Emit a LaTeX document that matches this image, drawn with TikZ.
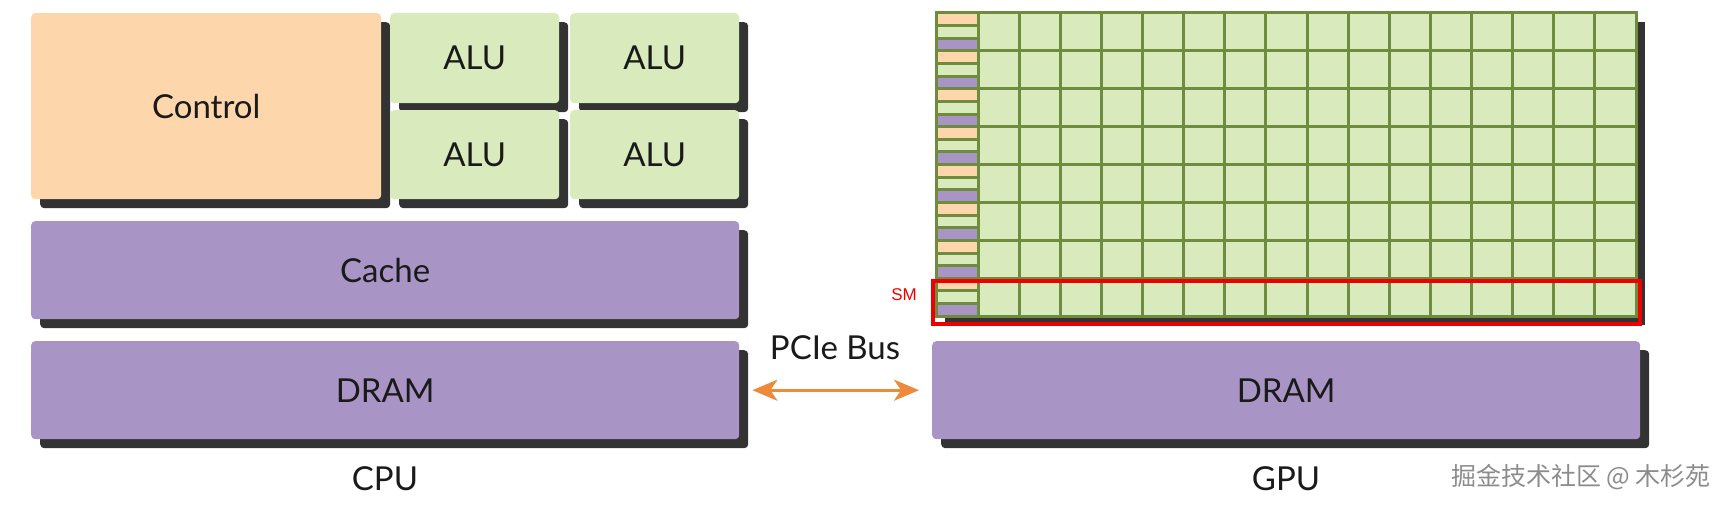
\documentclass[tikz,border=0pt]{standalone}
\usepackage{fontspec}
\setmainfont{Lato}
\newfontfamily\cjkfont{Noto Sans CJK SC}
\newfontfamily\smfont{Liberation Sans}
\usetikzlibrary{shadows,arrows.meta}
\definecolor{ctrlc}{HTML}{FDD6AC}
\definecolor{aluc}{HTML}{D9EBBC}
\definecolor{purc}{HTML}{A995C5}
\definecolor{shadowc}{HTML}{333333}
\definecolor{gridc}{HTML}{6F8B3E}
\definecolor{smred}{HTML}{EE0000}
\definecolor{arrc}{HTML}{EE8A3C}
\definecolor{txtc}{HTML}{1A1A1A}
\definecolor{wmc}{HTML}{8C8C8C}
\begin{document}
\begin{tikzpicture}[x=1pt,y=-1pt,
  blk/.style={rounded corners=4pt, inner sep=0pt, anchor=north west,
    drop shadow={shadow xshift=9pt, shadow yshift=-9pt, opacity=1, fill=shadowc},
    font=\fontsize{33}{40}\selectfont, text=txtc},
  gridline/.style={draw=gridc, line width=3pt},
  lbl/.style={font=\fontsize{33}{40}\selectfont, text=txtc, inner sep=0pt},
  arr/.style={draw=arrc, line width=3pt,
    {Stealth[length=25pt,width=21pt,inset=7pt]}-{Stealth[length=25pt,width=21pt,inset=7pt]}}
]
\useasboundingbox (0,0) rectangle (1728,508);

% CPU
\node[blk, fill=ctrlc, minimum width=350pt, minimum height=186pt] (ctrl) at (31,13) {Control};
\node[blk, fill=aluc, minimum width=169pt, minimum height=90pt] (alu1) at (390,13) {ALU};
\node[blk, fill=aluc, minimum width=169pt, minimum height=90pt] (alu2) at (570,13) {ALU};
\node[blk, fill=aluc, minimum width=169pt, minimum height=89pt] (alu3) at (390,110) {ALU};
\node[blk, fill=aluc, minimum width=169pt, minimum height=89pt] (alu4) at (570,110) {ALU};
\node[blk, fill=purc, minimum width=708pt, minimum height=98pt] (cache) at (31,221) {Cache};
\node[blk, fill=purc, minimum width=708pt, minimum height=98pt] (cpudram) at (31,341) {DRAM};

% GPU
\node[blk, fill=purc, minimum width=708pt, minimum height=98pt] (gpudram) at (932,341) {DRAM};
\node[blk, rounded corners=0pt, fill=aluc, minimum width=700pt, minimum height=303pt] (grid) at (936,13) {};
\foreach \r in {0,...,7} {
  \pgfmathsetmacro\yo{13+\r*37.9}
  \fill[ctrlc] (936,\yo) rectangle (978,\yo+12.63);
  \fill[purc] (936,\yo+25.27) rectangle (978,\yo+37.9);
  \draw[gridline] (936,\yo+12.63) -- (978,\yo+12.63);
  \draw[gridline] (936,\yo+25.27) -- (978,\yo+25.27);
}
\foreach \k in {0,...,15} {
  \draw[gridline] ({978+\k*41.125},13) -- ({978+\k*41.125},316);
}
\foreach \r in {1,...,7} {
  \draw[gridline] (936,{13+\r*37.9}) -- (1636,{13+\r*37.9});
}
\draw[gridline] (grid.north west) rectangle (grid.south east);

% SM
\node[draw=smred, line width=4pt, anchor=north west, inner sep=0pt, minimum width=707pt, minimum height=43pt] (sm) at (931,279) {};
\node[text=smred, font=\smfont\fontsize{17}{19}\selectfont, inner sep=0pt] (smlbl) at (904,295) {SM};

% Bus
\draw[arr, shorten <=13pt, shorten >=13pt] (cpudram.east) -- (gpudram.west);
\node[lbl] (bus) at (835,348) {PCIe Bus};

% Labels
\node[lbl] (cpulbl) at (385,479) {CPU};
\node[lbl] (gpulbl) at (1286,479) {GPU};
\node[text=wmc, font=\cjkfont\fontsize{25}{29}\selectfont, inner sep=0pt] (wm) at (1581,477) {掘金技术社区 @ 木杉苑};
\end{tikzpicture}
\end{document}
